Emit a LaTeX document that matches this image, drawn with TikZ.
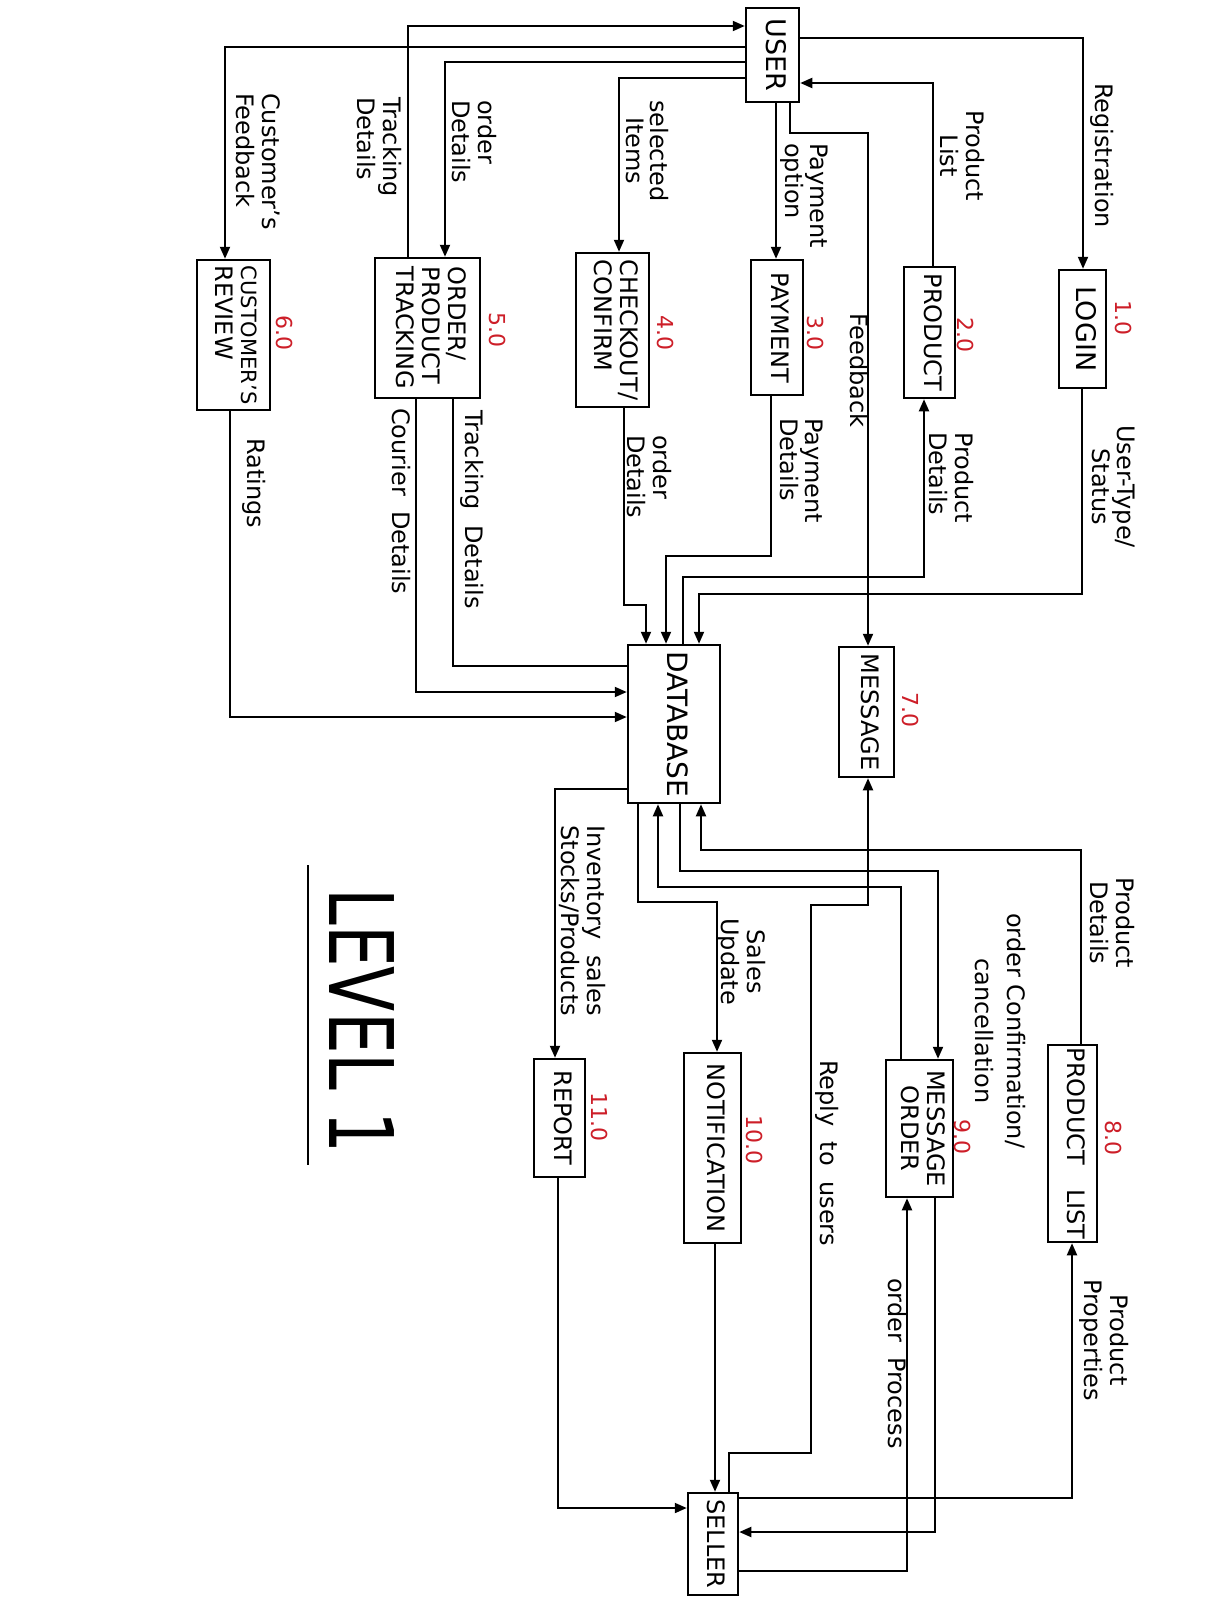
\documentclass[tikz,border=0pt]{standalone}
\usepackage{fontspec}
\setmainfont{DejaVu Sans}
\usepackage{graphicx}
\usetikzlibrary{arrows.meta}
\definecolor{numred}{RGB}{205,30,40}
\newcommand{\rotlines}[2]{\rotatebox{-90}{\renewcommand{\arraystretch}{1}\begin{tabular}{@{}#1@{}}#2\end{tabular}}}
\newcommand{\lblfont}{\fontsize{24}{24}\selectfont}
\newcommand{\boxfont}{\fontsize{24}{26}\selectfont}
\newcommand{\numfont}{\fontsize{22}{22}\selectfont}
\tikzset{
  box/.style={draw, line width=2.5pt, inner sep=0pt, font=\boxfont},
  conn/.style={line width=2pt},
  arr/.style={conn, -{Triangle[length=12pt,width=10pt]}},
  lbl/.style={inner sep=0pt, font=\lblfont, anchor=north},
  num/.style={inner sep=0pt, text=numred, font=\numfont},
}
\begin{document}
\begin{tikzpicture}[x=1pt,y=-1pt]
\fill[white] (0,0) rectangle (1204,1608);
\useasboundingbox (0,0) rectangle (1204,1608);

% ---------- boxes ----------
\node[box, minimum width=53pt, minimum height=94pt] (user) at (772.5,55) {\rotlines{c}{\fontsize{27}{27}\selectfont USER}};
\node[box, minimum width=47pt, minimum height=118pt] (login) at (1082.5,329) {\rotlines{c}{\fontsize{27}{27}\selectfont LOGIN}};
\node[box, minimum width=51pt, minimum height=131pt] (prod) at (929.5,332.5) {\rotlines{c}{PRODUCT}};
\node[box, minimum width=52pt, minimum height=135pt] (pay) at (777,327.5) {\rotlines{c}{PAYMENT}};
\node[box, minimum width=73pt, minimum height=154pt] (co) at (612.5,330) {\rotlines{l}{CHECKOUT/\\CONFIRM}};
\node[box, minimum width=105pt, minimum height=140pt] (opt) at (427.5,328) {\rotlines{l}{ORDER/\\PRODUCT\\TRACKING}};
\node[box, minimum width=73pt, minimum height=150pt] (cr) at (233.5,335) {\rotlines{l}{\fontsize{21}{25}\selectfont CUSTOMER'S\\REVIEW}};
\node[box, minimum width=55pt, minimum height=130pt] (msg) at (866.5,712) {\rotlines{c}{MESSAGE}};
\node[box, minimum width=92pt, minimum height=158pt] (db) at (674,724) {\rotlines{c}{\fontsize{28}{28}\selectfont DATABASE}};
\node[box, minimum width=49pt, minimum height=197pt] (pl) at (1072.5,1143.5) {\rotlines{c}{PRODUCT\quad LIST}};
\node[box, minimum width=67pt, minimum height=137pt] (mo) at (919.5,1128.5) {\rotlines{c}{MESSAGE\\ORDER}};
\node[box, minimum width=57pt, minimum height=190pt] (notif) at (712.5,1148) {\rotlines{c}{NOTIFICATION}};
\node[box, minimum width=51pt, minimum height=118pt] (rep) at (559.5,1118) {\rotlines{c}{REPORT}};
\node[box, minimum width=50pt, minimum height=102pt] (seller) at (713,1544) {\rotlines{c}{SELLER}};

% ---------- process numbers ----------
\node[num] (n1) at (1123,318) {\rotatebox{-90}{1.0}};
\node[num] (n2) at (965,335) {\rotatebox{-90}{2.0}};
\node[num] (n3) at (815,333) {\rotatebox{-90}{3.0}};
\node[num] (n4) at (665,333) {\rotatebox{-90}{4.0}};
\node[num] (n5) at (498,330) {\rotatebox{-90}{5.0}};
\node[num] (n6) at (285,333) {\rotatebox{-90}{6.0}};
\node[num] (n7) at (910,710) {\rotatebox{-90}{7.0}};
\node[num] (n8) at (1113,1138) {\rotatebox{-90}{8.0}};
\node[num] (n9) at (962,1137) {\rotatebox{-90}{9.0}};
\node[num] (n10) at (754,1140) {\rotatebox{-90}{10.0}};
\node[num] (n11) at (600,1117) {\rotatebox{-90}{11.0}};

% ---------- connectors ----------
\draw[arr] (408,0 |- opt.north) -- (408,26) -- (user.west |- 0,26);
\draw[arr] (user.west |- 0,47) -| (225,0 |- cr.north);
\draw[arr] (user.west |- 0,62) -| (445,0 |- opt.north);
\draw[arr] (user.west |- 0,78) -| (619,0 |- co.north);
\draw[arr] (776,0 |- user.south) -- (776,0 |- pay.north);
\draw[arr] (790,0 |- user.south) |- (868,133) -- (868,0 |- msg.north);
\draw[arr] (user.east |- 0,38) -| (1083,0 |- login.north);
\draw[arr] (933,0 |- prod.north) |- (user.east |- 0,83);

\draw[arr] (230,0 |- cr.south) |- (db.west |- 0,717);
\draw[arr] (416,0 |- opt.south) |- (db.west |- 0,692);
\draw[conn] (453,0 |- opt.south) |- (db.west |- 0,666);
\draw[arr] (624,0 |- co.south) |- (646,605) -- (646,0 |- db.north);
\draw[arr] (771,0 |- pay.south) |- (666,556) -- (666,0 |- db.north);
\draw[arr] (683,0 |- db.north) |- (924,577) -- (924,0 |- prod.south);
\draw[arr] (1082,0 |- login.south) |- (699,594) -- (699,0 |- db.north);

\draw[arr] (db.west |- 0,789) -| (555,0 |- rep.north);
\draw[arr] (638,0 |- db.south) |- (717,902) -- (717,0 |- notif.north);
\draw[arr] (901,0 |- mo.north) |- (658,887) -- (658,0 |- db.south);
\draw[arr] (680,0 |- db.south) |- (938,871) -- (938,0 |- mo.north);
\draw[arr] (1081,0 |- pl.north) |- (701,850) -- (701,0 |- db.south);
\draw[arr] (729,0 |- seller.north) |- (811,1453) |- (868,905) -- (868,0 |- msg.south);

\draw[arr] (558,0 |- rep.south) |- (seller.west |- 0,1508);
\draw[arr] (715,0 |- notif.south) -- (715,0 |- seller.north);
\draw[arr] (seller.east |- 0,1498) -| (1072,0 |- pl.south);
\draw[arr] (935,0 |- mo.south) |- (seller.east |- 0,1532);
\draw[arr] (seller.east |- 0,1571) -| (907,0 |- mo.south);

% ---------- labels ----------
\node[lbl] (l1) at (255,93) {\rotlines{l}{Customer's\\Feedback}};
\node[lbl] (l2) at (376,97) {\rotlines{l}{Tracking\\Details}};
\node[lbl] (l3) at (471,100) {\rotlines{l}{order\\Details}};
\node[lbl] (l4) at (644,100) {\rotlines{c}{selected\\Items}};
\node[lbl] (l5) at (803,143) {\rotlines{l}{Payment\\option}};
\node[lbl] (l6) at (856,313) {\rotlines{l}{Feedback}};
\node[lbl] (l7) at (959,110) {\rotlines{c}{Product\\List}};
\node[lbl] (l8) at (1101,83) {\rotlines{l}{Registration}};
\node[lbl] (l9) at (253,438) {\rotlines{l}{Ratings}};
\node[lbl] (l10) at (398,408) {\rotlines{l}{Courier\ \ Details}};
\node[lbl] (l11) at (471,410) {\rotlines{l}{Tracking\ \ Details}};
\node[lbl] (l12) at (646,435) {\rotlines{l}{order\\Details}};
\node[lbl] (l13) at (798,418) {\rotlines{l}{Payment\\Details}};
\node[lbl] (l14) at (948,432) {\rotlines{l}{Product\\Details}};
\node[lbl] (l15) at (1110,425) {\rotlines{c}{User-Type/\\Status}};
\node[lbl] (l16) at (580,825) {\rotlines{c}{Inventory\ \ sales\\Stocks/Products}};
\node[lbl] (l17) at (740,918) {\rotlines{c}{Sales\\Update}};
\node[lbl] (l18) at (1109,877) {\rotlines{c}{Product\\Details}};
\node[lbl] (l19) at (997,913) {\rotlines{c}{order Confirmation/\\[6pt]cancellation}};
\node[lbl] (l20) at (826,1060) {\rotlines{l}{Reply\ \ to\ \ users}};
\node[lbl] (l21) at (894,1278) {\rotlines{l}{order\ \ Process}};
\node[lbl] (l22) at (1103,1279) {\rotlines{c}{Product\\Properties}};

% ---------- title ----------
\node[inner sep=0pt] (title) at (362,1021) {\rotatebox{-90}{\scalebox{1}[1.35]{\fontsize{66}{66}\selectfont LEVEL 1}}};
\draw[line width=2pt] (308,865) -- (308,1165);
\end{tikzpicture}
\end{document}
